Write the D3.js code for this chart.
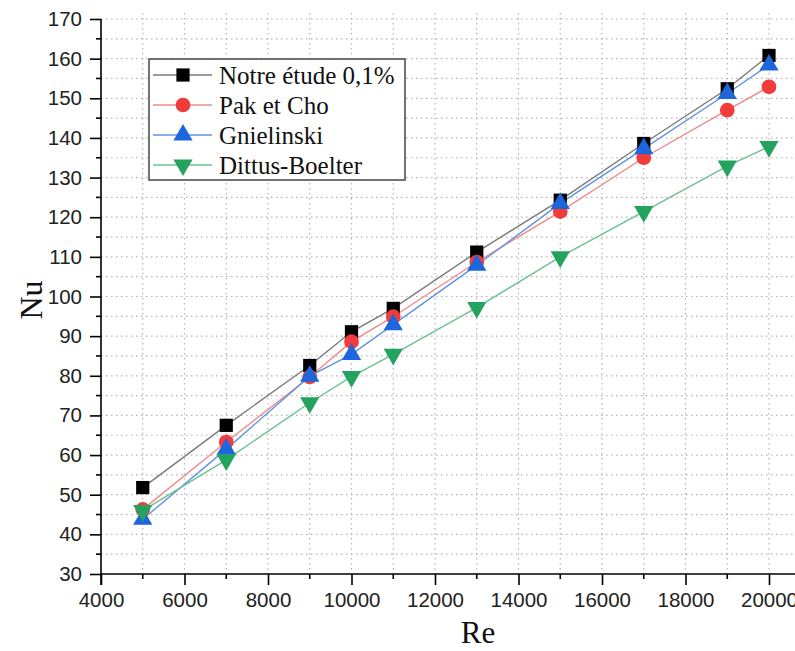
<!DOCTYPE html>
<html>
<head>
<meta charset="utf-8">
<script src="https://cdnjs.cloudflare.com/ajax/libs/d3/7.8.5/d3.min.js"></script>
<style>
  html, body { margin: 0; padding: 0; background: #fff; }
  svg { display: block; }
</style>
</head>
<body>
<svg id="chart" width="795" height="651"></svg>
<script>
// Reynolds numbers (x) and Nusselt numbers (y) for each correlation
const reynolds = [5000, 7000, 9000, 10000, 11000, 13000, 15000, 17000, 19000, 20000];
const notreEtude = [51.8, 67.5, 82.6, 91.1, 97.0, 111.2, 124.3, 138.6, 152.4, 160.8];
const pakCho = [46.3, 63.3, 79.7, 88.6, 94.9, 108.7, 121.4, 135.0, 147.0, 152.9];
const gnielinski = [43.8, 61.5, 79.9, 85.4, 92.9, 107.9, 123.5, 137.3, 151.2, 158.4];
const dittusBoelter = [46.0, 58.8, 73.2, 79.8, 85.4, 97.2, 110.0, 121.4, 132.9, 137.8];

const seriesNames = ["Notre étude 0,1%", "Pak et Cho", "Gnielinski", "Dittus-Boelter"];
const xTicks = [4000, 6000, 8000, 10000, 12000, 14000, 16000, 18000, 20000];
const yTicks = [30, 40, 50, 60, 70, 80, 90, 100, 110, 120, 130, 140, 150, 160, 170];

const series = [
  { name: seriesNames[0], values: notreEtude, marker: "square", fill: "#000000", line: "#7a7a7a" },
  { name: seriesNames[1], values: pakCho, marker: "circle", fill: "#f23b3b", line: "#f08a8a" },
  { name: seriesNames[2], values: gnielinski, marker: "triangle", fill: "#1e66dc", line: "#5f93e6" },
  { name: seriesNames[3], values: dittusBoelter, marker: "triangleDown", fill: "#23a35e", line: "#6cc08f" }
];

const svg = d3.select("#chart");
const W = 795, H = 651;
const plotLeft = 101, plotRight = 769, plotTop = 19, plotBottom = 574;

const x = d3.scaleLinear().domain([4000, 20000]).range([plotLeft, plotRight]);
const y = d3.scaleLinear().domain([30, 170]).range([plotBottom, plotTop]);
const xEnd = W; // the frame continues to the right edge

// dotted grid at every 1000 (x) and every 5 (y)
const grid = svg.append("g").attr("stroke", "#b4b4b4").attr("stroke-width", 1.2)
  .attr("stroke-dasharray", "1.5,3.5");
d3.range(5000, 21000 + 1, 1000).forEach(v => {
  const px = x(v);
  if (px < W) grid.append("line").attr("x1", px).attr("x2", px).attr("y1", plotTop - 6).attr("y2", plotBottom);
});
d3.range(35, 171, 5).forEach(v => {
  grid.append("line").attr("x1", plotLeft).attr("x2", xEnd).attr("y1", y(v)).attr("y2", y(v));
});

// axes
const axisFont = "'Liberation Sans', Arial, sans-serif";
const xAxis = d3.axisBottom(x).tickValues(xTicks).tickSize(11).tickPadding(7).tickFormat(d3.format("d"));
const gx = svg.append("g").attr("transform", `translate(0,${plotBottom})`).call(xAxis);
gx.select(".domain").remove();
gx.append("line").attr("x1", plotLeft).attr("x2", xEnd).attr("y1", 0).attr("y2", 0)
  .attr("stroke", "#000").attr("stroke-width", 1.6);
gx.selectAll(".tick line").attr("stroke", "#000").attr("stroke-width", 1.6);
gx.selectAll(".tick text").attr("fill", "#222").style("font-family", axisFont).style("font-size", "20.5px");
// minor ticks on x
const minorX = d3.range(5000, 20000, 2000);
gx.selectAll(".minor").data(minorX).enter().append("line")
  .attr("x1", d => x(d)).attr("x2", d => x(d)).attr("y1", 0).attr("y2", 5)
  .attr("stroke", "#000").attr("stroke-width", 1.6);

const yAxis = d3.axisLeft(y).tickValues(yTicks).tickSize(11).tickPadding(8).tickFormat(d3.format("d"));
const gy = svg.append("g").attr("transform", `translate(${plotLeft},0)`).call(yAxis);
gy.select(".domain").remove();
gy.append("line").attr("x1", 0).attr("x2", 0).attr("y1", plotTop).attr("y2", plotBottom + 11)
  .attr("stroke", "#000").attr("stroke-width", 1.6);
gy.selectAll(".tick line").attr("stroke", "#000").attr("stroke-width", 1.6);
gy.selectAll(".tick text").attr("fill", "#222").style("font-family", axisFont).style("font-size", "20.5px");
const minorY = d3.range(35, 170, 10);
gy.selectAll(".minor").data(minorY).enter().append("line")
  .attr("x1", -5).attr("x2", 0).attr("y1", d => y(d)).attr("y2", d => y(d))
  .attr("stroke", "#000").attr("stroke-width", 1.6);

// axis titles
const serif = "'Liberation Serif', 'Times New Roman', serif";
svg.append("text").attr("x", 478).attr("y", 643).attr("text-anchor", "middle")
  .style("font-family", serif).style("font-size", "31px").attr("fill", "#111").text("Re");
svg.append("text").attr("transform", "translate(42,300) rotate(-90)").attr("text-anchor", "middle")
  .style("font-family", serif).style("font-size", "32px").attr("fill", "#111").text("Nu");

// marker shapes
const symbolFor = {
  square: d3.symbol().type(d3.symbolSquare).size(175),
  circle: d3.symbol().type(d3.symbolCircle).size(170),
  triangle: d3.symbol().type(d3.symbolTriangle).size(160),
  triangleDown: d3.symbol().type(d3.symbolTriangle).size(160)
};
function markerTransform(kind, px, py) {
  return kind === "triangleDown" ? `translate(${px},${py}) rotate(180)` : `translate(${px},${py})`;
}

const lineGen = d3.line().x(d => x(d[0])).y(d => y(d[1]));

series.forEach(s => {
  const pts = reynolds.map((r, i) => [r, s.values[i]]);
  svg.append("path").datum(pts).attr("d", lineGen)
    .attr("fill", "none").attr("stroke", s.line).attr("stroke-width", 1.4);
});
series.forEach(s => {
  const pts = reynolds.map((r, i) => [r, s.values[i]]);
  svg.append("g").selectAll("path").data(pts).enter().append("path")
    .attr("d", symbolFor[s.marker]())
    .attr("transform", d => markerTransform(s.marker, x(d[0]), y(d[1])))
    .attr("fill", s.fill);
});

// legend
const lg = svg.append("g");
lg.append("rect").attr("x", 149).attr("y", 59).attr("width", 256).attr("height", 121)
  .attr("fill", "#fff").attr("stroke", "#444").attr("stroke-width", 1.5);
series.forEach((s, i) => {
  const cy = 75 + i * 30;
  lg.append("line").attr("x1", 153).attr("x2", 212).attr("y1", cy).attr("y2", cy)
    .attr("stroke", s.line).attr("stroke-width", 1.4);
  lg.append("path").attr("d", symbolFor[s.marker]())
    .attr("transform", markerTransform(s.marker, 183, cy)).attr("fill", s.fill);
  lg.append("text").attr("x", 219).attr("y", cy + 8.5)
    .style("font-family", serif).style("font-size", "25px").attr("fill", "#111").text(s.name);
});
</script>
</body>
</html>
